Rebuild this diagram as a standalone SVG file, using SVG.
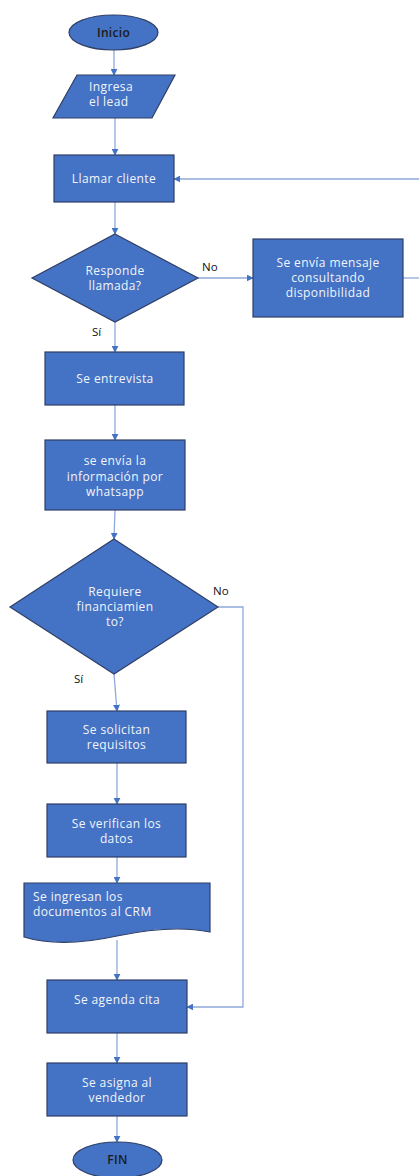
<svg xmlns="http://www.w3.org/2000/svg" width="419" height="1176" viewBox="0 0 419 1176">
  <defs>
    <marker id="arrow" viewBox="0 0 10 10" refX="9" refY="5" markerWidth="7" markerHeight="7" markerUnits="userSpaceOnUse" orient="auto">
      <path d="M0,0 L10,5 L0,10 Z" fill="#4472C4"/>
    </marker>
    <style>
      .shape { fill: #4472C4; stroke: #2F3F66; stroke-width: 1.2; }
      .conn { fill: none; stroke: #8EA9DB; stroke-width: 1.3; }
      .t { font-family: "Open Sans", "Liberation Sans", sans-serif; font-size: 12px; letter-spacing: 0.4px; fill: #F2F5FB; text-anchor: middle; }
      .tl { font-family: "Open Sans", "Liberation Sans", sans-serif; font-size: 12px; letter-spacing: 0.4px; fill: #F2F5FB; }
      .term { font-family: "Open Sans", "Liberation Sans", sans-serif; font-size: 12px; font-weight: 600; letter-spacing: 0.3px; fill: #1B1B1B; text-anchor: middle; }
      .lbl { font-family: "Open Sans", "Liberation Sans", sans-serif; font-size: 11.5px; fill: #111111; }
    </style>
  </defs>
  <rect width="419" height="1176" fill="#FFFFFF"/>

  <g id="connectors">
    <path class="conn" d="M114,50 V75" marker-end="url(#arrow)"/>
    <path class="conn" d="M115,118 V155" marker-end="url(#arrow)"/>
    <path class="conn" d="M115,202 V234" marker-end="url(#arrow)"/>
    <path class="conn" d="M198,278 H253" marker-end="url(#arrow)"/>
    <path class="conn" d="M403,278 H419"/>
    <path class="conn" d="M419,179 H174" marker-end="url(#arrow)"/>
    <path class="conn" d="M115,322 V352" marker-end="url(#arrow)"/>
    <path class="conn" d="M115,405 V440" marker-end="url(#arrow)"/>
    <path class="conn" d="M115,510 L114,539" marker-end="url(#arrow)"/>
    <path class="conn" d="M114,674 L117,711" marker-end="url(#arrow)"/>
    <path class="conn" d="M117,763 V804" marker-end="url(#arrow)"/>
    <path class="conn" d="M117,857 V883" marker-end="url(#arrow)"/>
    <path class="conn" d="M117,940 V980" marker-end="url(#arrow)"/>
    <path class="conn" d="M218,607 H243 V1007 H187" marker-end="url(#arrow)"/>
    <path class="conn" d="M117,1033 V1063" marker-end="url(#arrow)"/>
    <path class="conn" d="M117,1116 V1142" marker-end="url(#arrow)"/>
    <text class="lbl" x="202" y="271">No</text>
    <text class="lbl" x="92" y="336">Sí</text>
    <text class="lbl" x="213" y="595">No</text>
    <text class="lbl" x="74" y="683">Sí</text>
  </g>

  <g id="inicio">
    <ellipse class="shape" cx="113.5" cy="32.5" rx="44.5" ry="17.5"/>
    <text class="term" x="113.5" y="37">Inicio</text>
  </g>

  <g id="ingresa-lead">
    <polygon class="shape" points="77,75 175,75 152,118 53,118"/>
    <text class="tl" x="89" y="91">Ingresa</text>
    <text class="tl" x="89" y="106">el lead</text>
  </g>

  <g id="llamar-cliente">
    <rect class="shape" x="54" y="155" width="120" height="47"/>
    <text class="t" x="114" y="183">Llamar cliente</text>
  </g>

  <g id="responde-llamada">
    <polygon class="shape" points="115,234 198,278 115,322 32,278"/>
    <text class="t" x="115" y="275">Responde</text>
    <text class="t" x="115" y="290">llamada?</text>
  </g>

  <g id="envia-mensaje">
    <rect class="shape" x="253" y="239" width="150" height="78"/>
    <text class="t" x="328" y="267">Se envía mensaje</text>
    <text class="t" x="328" y="282">consultando</text>
    <text class="t" x="328" y="297">disponibilidad</text>
  </g>

  <g id="entrevista">
    <rect class="shape" x="45" y="352" width="139" height="53"/>
    <text class="t" x="115" y="383">Se entrevista</text>
  </g>

  <g id="envia-info">
    <rect class="shape" x="45" y="440" width="140" height="70"/>
    <text class="t" x="115" y="465">se envía la</text>
    <text class="t" x="115" y="481">información por</text>
    <text class="t" x="115" y="496">whatsapp</text>
  </g>

  <g id="requiere-financiamiento">
    <polygon class="shape" points="114,539 218,607 114,674 10,607"/>
    <text class="t" x="115" y="596">Requiere</text>
    <text class="t" x="115" y="611">financiamien</text>
    <text class="t" x="115" y="626">to?</text>
  </g>

  <g id="solicitan-requisitos">
    <rect class="shape" x="47" y="711" width="139" height="52"/>
    <text class="t" x="116.5" y="734">Se solicitan</text>
    <text class="t" x="116.5" y="749">requisitos</text>
  </g>

  <g id="verifican-datos">
    <rect class="shape" x="47" y="804" width="139" height="53"/>
    <text class="t" x="116.5" y="828">Se verifican los</text>
    <text class="t" x="116.5" y="843">datos</text>
  </g>

  <g id="ingresan-documentos">
    <path class="shape" d="M24,883 H210 V932 C180,926 150,929 117,936 C85,943 50,945 24,937 Z"/>
    <text class="tl" x="33" y="901">Se ingresan los</text>
    <text class="tl" x="33" y="916">documentos al CRM</text>
  </g>

  <g id="agenda-cita">
    <rect class="shape" x="47" y="980" width="140" height="53"/>
    <text class="t" x="117" y="1004">Se agenda cita</text>
  </g>

  <g id="asigna-vendedor">
    <rect class="shape" x="47" y="1063" width="140" height="53"/>
    <text class="t" x="117" y="1087">Se asigna al</text>
    <text class="t" x="117" y="1102">vendedor</text>
  </g>

  <g id="fin">
    <ellipse class="shape" cx="117.5" cy="1160" rx="44.5" ry="18"/>
    <text class="term" x="117.5" y="1164">FIN</text>
  </g>
</svg>
